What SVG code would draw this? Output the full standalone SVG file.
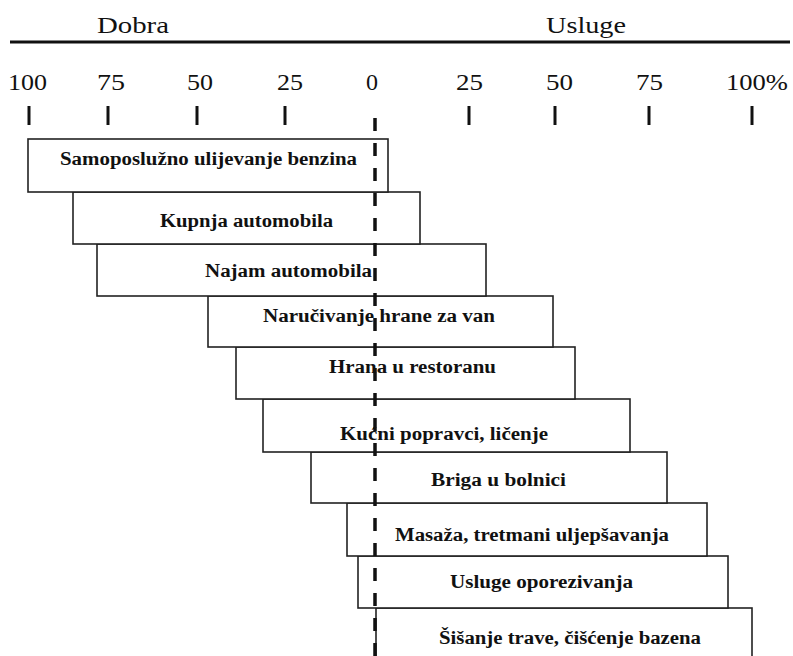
<svg xmlns="http://www.w3.org/2000/svg" width="793" height="656" viewBox="0 0 793 656">
<style>
.hdr{font-family:"Liberation Serif","Times New Roman",serif;font-size:23px;fill:#111;text-anchor:start}
.num{font-family:"Liberation Serif","Times New Roman",serif;font-size:23px;fill:#111;text-anchor:start}
.lbl{font-family:"Liberation Serif","Times New Roman",serif;font-size:18px;font-weight:bold;fill:#111;text-anchor:start}
.box{fill:#fff;stroke:#222;stroke-width:1.6}
.tick{stroke:#111;stroke-width:3}
</style>
<rect width="793" height="656" fill="#fff"/>
<g id="header">
<line x1="10" y1="42" x2="790" y2="42" stroke="#111" stroke-width="3"/>
<text class="hdr" x="97" y="33" textLength="72" lengthAdjust="spacingAndGlyphs">Dobra</text>
<text class="hdr" x="546" y="33" textLength="80" lengthAdjust="spacingAndGlyphs">Usluge</text>
</g>
<g id="axis">
<text class="num" x="8" y="90" textLength="39" lengthAdjust="spacingAndGlyphs">100</text>
<text class="num" x="97" y="90" textLength="28" lengthAdjust="spacingAndGlyphs">75</text>
<text class="num" x="187" y="90" textLength="26" lengthAdjust="spacingAndGlyphs">50</text>
<text class="num" x="277" y="90" textLength="26" lengthAdjust="spacingAndGlyphs">25</text>
<text class="num" x="366" y="90" textLength="12" lengthAdjust="spacingAndGlyphs">0</text>
<text class="num" x="456" y="90" textLength="27" lengthAdjust="spacingAndGlyphs">25</text>
<text class="num" x="546" y="90" textLength="27" lengthAdjust="spacingAndGlyphs">50</text>
<text class="num" x="636" y="90" textLength="27" lengthAdjust="spacingAndGlyphs">75</text>
<text class="num" x="726" y="90" textLength="62" lengthAdjust="spacingAndGlyphs">100%</text>
<line class="tick" x1="29" y1="106" x2="29" y2="125"/>
<line class="tick" x1="108" y1="106" x2="108" y2="125"/>
<line class="tick" x1="197" y1="106" x2="197" y2="125"/>
<line class="tick" x1="285" y1="106" x2="285" y2="125"/>
<line class="tick" x1="469" y1="106" x2="469" y2="125"/>
<line class="tick" x1="555" y1="106" x2="555" y2="125"/>
<line class="tick" x1="649" y1="106" x2="649" y2="125"/>
<line class="tick" x1="752" y1="106" x2="752" y2="125"/>
</g>
<g id="n10"><rect class="box" x="376" y="608" width="376" height="60"/><text class="lbl" x="439" y="644" textLength="262" lengthAdjust="spacingAndGlyphs">Šišanje trave, čišćenje bazena</text></g>
<g id="n9"><rect class="box" x="358" y="556" width="370" height="52"/><text class="lbl" x="450" y="588" textLength="183" lengthAdjust="spacingAndGlyphs">Usluge oporezivanja</text></g>
<g id="n8"><rect class="box" x="347" y="503" width="360" height="53"/><text class="lbl" x="395" y="541" textLength="274" lengthAdjust="spacingAndGlyphs">Masaža, tretmani uljepšavanja</text></g>
<g id="n7"><rect class="box" x="311" y="452" width="356" height="51"/><text class="lbl" x="431" y="486" textLength="135" lengthAdjust="spacingAndGlyphs">Briga u bolnici</text></g>
<g id="n6"><rect class="box" x="263" y="399" width="367" height="53"/><text class="lbl" x="340" y="440" textLength="208" lengthAdjust="spacingAndGlyphs">Kućni popravci, ličenje</text></g>
<g id="n5"><rect class="box" x="236" y="347" width="339" height="52"/><text class="lbl" x="329" y="373" textLength="167" lengthAdjust="spacingAndGlyphs">Hrana u restoranu</text></g>
<g id="n4"><rect class="box" x="208" y="296" width="345" height="51"/><text class="lbl" x="263" y="322" textLength="232" lengthAdjust="spacingAndGlyphs">Naručivanje hrane za van</text></g>
<g id="n3"><rect class="box" x="97" y="244" width="389" height="52"/><text class="lbl" x="205" y="277" textLength="167" lengthAdjust="spacingAndGlyphs">Najam automobila</text></g>
<g id="n2"><rect class="box" x="73" y="192" width="347" height="52"/><text class="lbl" x="160" y="227" textLength="173" lengthAdjust="spacingAndGlyphs">Kupnja automobila</text></g>
<g id="n1"><rect class="box" x="28" y="139" width="360" height="53" stroke-width="2.6"/><text class="lbl" x="60" y="165" textLength="297" lengthAdjust="spacingAndGlyphs">Samoposlužno ulijevanje benzina</text></g>
<g id="connectors">
<line x1="375" y1="118" x2="375" y2="656" stroke="#111" stroke-width="3.5" stroke-dasharray="13 12"/>
</g>
</svg>
